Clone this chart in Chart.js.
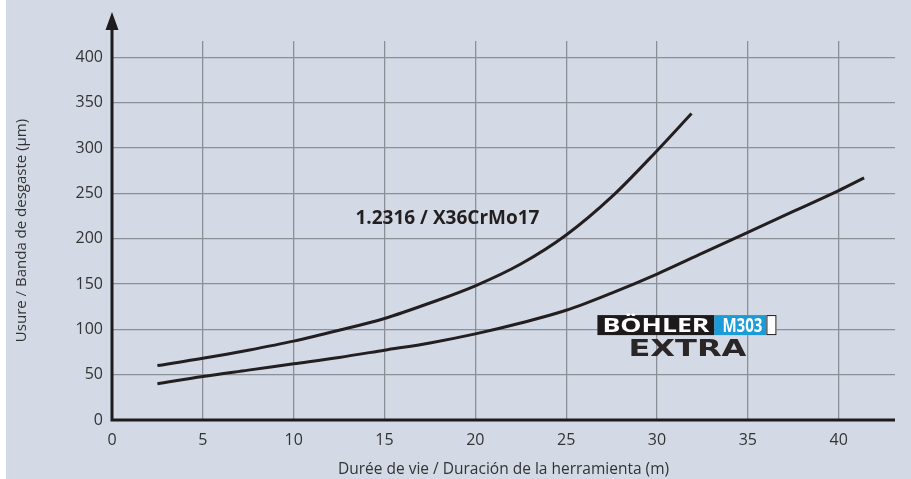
<!DOCTYPE html>
<html>
<head>
<meta charset="utf-8">
<script src="https://cdn.jsdelivr.net/npm/chart.js@4/dist/chart.umd.min.js"></script>
<style>
html,body{margin:0;padding:0;background:#ffffff;}
#wrap{position:relative;width:911px;height:479px;}
canvas{display:block;}
</style>
</head>
<body>
<div id="wrap"><canvas id="c" width="911" height="479"></canvas></div>
<script>
// ---- data ----
const xTicks = [0, 5, 10, 15, 20, 25, 30, 35, 40];
const yTicks = [0, 50, 100, 150, 200, 250, 300, 350, 400];
const upperX = [2.5, 5, 7.5, 10, 12.5, 15, 17.5, 20, 22.5, 25, 27.5, 30, 31.9];
const upperY = [60, 68, 77, 87, 99, 112, 129, 148, 172, 204, 246, 297, 338];
const lowerX = [2.5, 5, 7.5, 10, 12.5, 15, 17.5, 20, 22.5, 25, 27.5, 30, 32.5, 35, 37.5, 40, 41.4];
const lowerY = [40, 48, 55, 62, 69, 77, 85, 95, 107, 121, 140, 161, 184, 207, 230, 253, 267];
const seriesLabel = "1.2316 / X36CrMo17";
const xTitle = "Durée de vie / Duración de la herramienta (m)";
const yTitle = "Usure / Banda de desgaste (µm)";
const labelPos = {x: 13.4, y: 222};
const logoPos = {x: 26.72, y: 115.7};

const FONT = "'Open Sans', 'Noto Sans', sans-serif";
const BG = '#d3dae6';

const pts = (xs, ys) => xs.map((x, i) => ({x: x, y: ys[i]}));

function fitText(ctx, text, x, y, width) {
  const w = ctx.measureText(text).width;
  ctx.save();
  ctx.translate(x, y);
  ctx.scale(width / w, 1);
  ctx.textAlign = 'left';
  ctx.fillText(text, 0, 0);
  ctx.restore();
}

const decor = {
  id: 'decor',
  beforeDraw(chart) {
    const ctx = chart.ctx;
    ctx.save();
    ctx.fillStyle = '#ffffff';
    ctx.fillRect(0, 0, chart.width, chart.height);
    ctx.fillStyle = BG;
    ctx.fillRect(6, 0, chart.width - 6, chart.height);
    ctx.restore();
  },
  afterDatasetsDraw(chart) {
    const ctx = chart.ctx;
    const xs = chart.scales.x, ys = chart.scales.y;
    const a = chart.chartArea;
    const x0 = xs.getPixelForValue(0), y0 = ys.getPixelForValue(0);
    ctx.save();
    // axes
    ctx.strokeStyle = '#1f1b1c';
    ctx.lineWidth = 3;
    ctx.lineCap = 'butt';
    ctx.beginPath();
    ctx.moveTo(x0, y0);
    ctx.lineTo(a.right, y0);
    ctx.moveTo(x0, y0 + 1.5);
    ctx.lineTo(x0, 28);
    ctx.stroke();
    // arrow
    ctx.fillStyle = '#1f1b1c';
    ctx.beginPath();
    ctx.moveTo(x0, 12);
    ctx.lineTo(x0 + 6.5, 30);
    ctx.lineTo(x0 - 6.5, 30);
    ctx.closePath();
    ctx.fill();
    // series label
    ctx.fillStyle = '#231f20';
    ctx.font = "bold 19px " + FONT;
    ctx.textAlign = 'left';
    ctx.textBaseline = 'middle';
    ctx.fillText(seriesLabel, xs.getPixelForValue(labelPos.x), ys.getPixelForValue(labelPos.y));
    // logo
    const lx = xs.getPixelForValue(logoPos.x), ly = ys.getPixelForValue(logoPos.y);
    ctx.fillStyle = '#1d1a1b';
    ctx.fillRect(lx, ly, 117, 20);
    ctx.fillStyle = '#1b9bd7';
    ctx.fillRect(lx + 117, ly, 52, 20);
    ctx.fillStyle = '#ffffff';
    ctx.fillRect(lx + 169, ly, 10, 20);
    ctx.strokeStyle = '#1d1a1b';
    ctx.lineWidth = 1;
    ctx.strokeRect(lx + 169.5, ly + 0.5, 9, 19);
    ctx.fillStyle = '#ffffff';
    ctx.font = "bold 20px " + FONT;
    ctx.textBaseline = 'middle';
    fitText(ctx, 'BÖHLER', lx + 5, ly + 11, 107);
    fitText(ctx, 'M303', lx + 125, ly + 11, 40);
    // EXTRA
    ctx.fillStyle = '#2a2627';
    ctx.font = "900 23px 'DejaVu Sans', sans-serif";
    fitText(ctx, 'EXTRA', lx + 31, ly + 35, 118);
    ctx.restore();
  }
};

new Chart(document.getElementById('c'), {
  type: 'line',
  data: {
    datasets: [
      {data: pts(upperX, upperY), borderColor: '#231f20', borderWidth: 3, pointRadius: 0, fill: false, cubicInterpolationMode: 'monotone'},
      {data: pts(lowerX, lowerY), borderColor: '#231f20', borderWidth: 3, pointRadius: 0, fill: false, cubicInterpolationMode: 'monotone'}
    ]
  },
  options: {
    responsive: false,
    animation: false,
    devicePixelRatio: 1,
    layout: {padding: {top: 41, right: 16, left: 0, bottom: 0}},
    plugins: {legend: {display: false}, tooltip: {enabled: false}},
    scales: {
      x: {
        type: 'linear', min: 0, max: 43.1,
        afterBuildTicks: s => { s.ticks = xTicks.map(v => ({value: v})); },
        afterFit: s => { s.height = 59; },
        grid: {color: '#8c9096', lineWidth: 1.3, drawTicks: false},
        border: {display: false},
        ticks: {color: '#333333', font: {family: FONT, size: 16}, padding: 11, maxRotation: 0},
        title: {display: true, text: xTitle, color: '#333333', font: {family: FONT, size: 15.5}, padding: {top: 2, bottom: 0}}
      },
      y: {
        type: 'linear', min: 0, max: 418,
        afterBuildTicks: s => { s.ticks = yTicks.map(v => ({value: v})); },
        afterFit: s => { s.width = 112; },
        grid: {color: '#8c9096', lineWidth: 1.3, drawTicks: false},
        border: {display: false},
        ticks: {color: '#333333', font: {family: FONT, size: 16}, padding: 9},
        title: {display: true, text: yTitle, color: '#333333', font: {family: FONT, size: 15}, padding: {top: 13, bottom: 0}}
      }
    }
  },
  plugins: [decor]
});
</script>
</body>
</html>
